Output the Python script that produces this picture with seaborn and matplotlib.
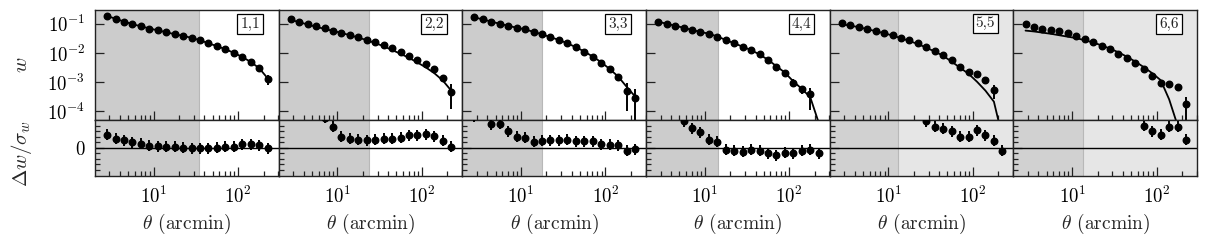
import numpy as np
import seaborn as sns
import matplotlib.pyplot as plt
from matplotlib.ticker import FixedLocator, NullLocator, NullFormatter, LogLocator

nan = np.nan

# angular bins (arcmin)
theta = [2.81, 3.54, 4.46, 5.61, 7.06, 8.89, 11.19, 14.09, 17.74, 22.33,
         28.11, 35.39, 44.55, 56.09, 70.61, 88.89, 111.9, 140.9, 177.4, 223.3]

labels = ["1,1", "2,2", "3,3", "4,4", "5,5", "6,6"]
cuts = [34.5, 23.8, 17.7, 14.2, 13.1, 13.3]

# measured w(theta)
w1 = [0.195, 0.148, 0.120, 0.0977, 0.0832, 0.0692, 0.0603, 0.0513, 0.0437, 0.0389,
      0.0331, 0.0275, 0.0214, 0.0174, 0.0138, 0.0102, 0.00741, 0.00501, 0.00309, 0.00126]
w2 = [0.148, 0.120, 0.100, 0.0851, 0.0708, 0.0589, 0.0501, 0.0427, 0.0347, 0.0288,
      0.0234, 0.0191, 0.0145, 0.0112, 0.00794, 0.00575, 0.00407, 0.00275, 0.00141, 0.000468]
w3 = [0.170, 0.145, 0.120, 0.100, 0.0851, 0.0741, 0.0661, 0.0525, 0.0437, 0.0347,
      0.0282, 0.0214, 0.0158, 0.0112, 0.00741, 0.00468, 0.00275, 0.00151, 0.000501, 0.000275]
w4 = [0.120, 0.100, 0.0871, 0.0741, 0.0617, 0.0525, 0.0457, 0.0363, 0.0282, 0.0214,
      0.0166, 0.0126, 0.00891, 0.00575, 0.00339, 0.00200, 0.000955, 0.000562, 0.000372, nan]
w5 = [0.105, 0.0933, 0.0813, 0.0692, 0.0589, 0.0501, 0.0427, 0.0339, 0.0275, 0.0214,
      0.0158, 0.0120, 0.00832, 0.00575, 0.00339, 0.00229, 0.00191, 0.00117, 0.000525, nan]
w6 = [0.0977, 0.0794, 0.0692, 0.0603, 0.0550, 0.0468, 0.0389, 0.0302, 0.0245, 0.0174,
      0.0138, 0.00955, 0.00692, 0.00437, 0.00275, 0.00162, 0.000955, 0.000871, 0.000692, 0.000174]

# relative errors sigma/w
e1 = [0.03, 0.03, 0.03, 0.03, 0.03, 0.03, 0.03, 0.03, 0.03, 0.04,
      0.04, 0.04, 0.05, 0.05, 0.06, 0.07, 0.08, 0.10, 0.15, 0.40]
e2 = [0.03, 0.03, 0.03, 0.03, 0.03, 0.03, 0.03, 0.04, 0.04, 0.04,
      0.05, 0.05, 0.06, 0.06, 0.07, 0.08, 0.10, 0.12, 0.20, 0.75]
e3 = [0.03, 0.03, 0.03, 0.03, 0.03, 0.03, 0.03, 0.04, 0.04, 0.04,
      0.05, 0.05, 0.06, 0.07, 0.08, 0.10, 0.15, 0.20, 0.80, 1.10]
e4 = [0.03, 0.03, 0.03, 0.03, 0.03, 0.03, 0.04, 0.04, 0.05, 0.05,
      0.06, 0.07, 0.08, 0.10, 0.12, 0.15, 0.30, 0.30, 0.70, nan]
e5 = [0.03, 0.03, 0.03, 0.03, 0.03, 0.03, 0.04, 0.04, 0.05, 0.05,
      0.06, 0.07, 0.08, 0.10, 0.10, 0.10, 0.12, 0.12, 0.50, nan]
e6 = [0.03, 0.03, 0.03, 0.03, 0.03, 0.03, 0.04, 0.04, 0.05, 0.05,
      0.06, 0.07, 0.08, 0.10, 0.10, 0.10, 0.10, 0.10, 0.10, 0.75]

# best-fit model
m1 = [0.190, 0.150, 0.121, 0.098, 0.083, 0.070, 0.060, 0.052, 0.044, 0.039,
      0.033, 0.0275, 0.0215, 0.0172, 0.0135, 0.0101, 0.0073, 0.0049, 0.0030, 0.00135]
m2 = [0.138, 0.115, 0.0955, 0.0794, 0.0676, 0.0575, 0.0490, 0.0407, 0.0339, 0.0275,
      0.0219, 0.0170, 0.0126, 0.00933, 0.00676, 0.00468, 0.00316, 0.00200, 0.00112, 0.000501]
m3 = [0.168, 0.143, 0.120, 0.101, 0.086, 0.074, 0.065, 0.053, 0.044, 0.035,
      0.028, 0.0215, 0.0158, 0.0112, 0.0075, 0.0048, 0.0028, 0.00155, 0.00069, 0.00032]
m4 = [0.120, 0.101, 0.087, 0.074, 0.062, 0.053, 0.046, 0.037, 0.028, 0.0215,
      0.0165, 0.0125, 0.0089, 0.0058, 0.0035, 0.0021, 0.00105, 0.00058, 0.00030, 0.00004]
m5 = [0.0977, 0.0871, 0.0776, 0.0661, 0.0562, 0.0479, 0.0398, 0.0324, 0.0257, 0.0204,
      0.0151, 0.0112, 0.00794, 0.00501, 0.00309, 0.00191, 0.00102, 0.000501, 0.000209, 0.0000126]
m6 = [0.0589, 0.0550, 0.0501, 0.0457, 0.0407, 0.0363, 0.0324, 0.0275, 0.0229, 0.0182,
      0.0141, 0.0105, 0.00741, 0.00501, 0.00324, 0.00200, 0.00115, 0.000251, 0.0000316, nan]

# residuals (w - model)/sigma
r1 = [2.4, 1.7, 1.4, 1.0, 0.8, 0.4, 0.3, 0.2, 0.2, 0.0,
      -0.1, -0.1, -0.1, 0.0, 0.2, 0.2, 0.7, 0.7, 0.5, -0.1]
r2 = [nan, nan, nan, nan, 5.5, 3.9, 2.0, 1.7, 1.5, 1.4,
      1.5, 1.7, 1.7, 1.9, 2.3, 2.3, 2.5, 2.1, 1.3, 0.2]
r3 = [5.8, nan, 4.3, 4.4, 3.0, 2.0, 1.9, 1.1, 1.3, 1.4,
      1.4, 1.5, 1.2, 1.2, 1.2, 0.65, 0.6, 0.5, -0.55, -0.25]
r4 = [nan, nan, nan, 4.9, 3.6, 2.9, 1.5, 1.1, -0.3, -0.55,
      -0.7, -0.3, -0.55, -1.0, -1.3, -0.9, -1.0, -0.55, -0.3, -1.0]
r5 = [nan, nan, nan, nan, nan, nan, nan, nan, nan, nan,
      4.9, 3.9, 3.5, 3.0, 2.0, 2.0, 3.2, 2.3, 1.3, -0.55]
r6 = [nan, nan, nan, nan, nan, nan, nan, nan, nan, nan,
      nan, nan, nan, nan, 4.0, 3.0, 2.4, 3.9, 3.9, 1.5]

data = [w1, w2, w3, w4, w5, w6]
errs = [e1, e2, e3, e4, e5, e6]
models = [m1, m2, m3, m4, m5, m6]
resids = [r1, r2, r3, r4, r5, r6]

sns.set_theme(style="ticks")
plt.rcParams.update({
    "font.family": "serif",
    "font.serif": ["cmr10"],
    "mathtext.fontset": "cm",
    "axes.formatter.use_mathtext": True,
    "axes.edgecolor": "#222222",
    "axes.linewidth": 1.0,
    "axes.unicode_minus": False,
})

fig = plt.figure(figsize=(12.08, 2.4), dpi=100)
gs = fig.add_gridspec(2, 6, left=0.0786, right=0.991, top=0.958, bottom=0.267,
                      hspace=0, wspace=0, height_ratios=[110, 56])

xlim = (2.02, 302)
th = np.array(theta)

for i in range(6):
    at = fig.add_subplot(gs[0, i])
    ab = fig.add_subplot(gs[1, i])
    w = np.array(data[i])
    err = w * np.array(errs[i])

    for ax in (at, ab):
        ax.set_xscale("log")
        ax.set_xlim(*xlim)
        if i >= 4:
            ax.set_facecolor("#e6e6e6")
            shade = "#d1d1d1"
        else:
            ax.set_facecolor("white")
            shade = "#cccccc"
        ax.axvspan(xlim[0], cuts[i], color=shade, lw=0, zorder=0)
        ax.axvline(cuts[i], color="#b8b8b8", lw=0.8, zorder=0.5)
        ax.xaxis.set_major_locator(FixedLocator([10, 100]))
        ax.xaxis.set_minor_locator(LogLocator(base=10, subs=np.arange(2, 10), numticks=20))
        ax.xaxis.set_minor_formatter(NullFormatter())
        ax.tick_params(which="both", direction="in", top=False, right=False,
                       colors="#222222", labelcolor="black", labelsize=13.5, pad=7)
        ax.tick_params(which="major", length=6.5, width=0.9)
        ax.tick_params(which="minor", length=3.5, width=0.9)

    # top: w(theta)
    at.set_yscale("log")
    at.set_ylim(4.9e-5, 0.3)
    at.errorbar(th, w, yerr=err, fmt="o", color="black", ms=4.7, elinewidth=1.4,
                capsize=0, zorder=3)
    sns.lineplot(x=theta, y=models[i], ax=at, color="black", lw=1.3, zorder=2)
    at.yaxis.set_major_locator(FixedLocator([1e-4, 1e-3, 1e-2, 1e-1]))
    at.yaxis.set_minor_locator(NullLocator())
    at.tick_params(labelbottom=False)
    at.text(0.9, 0.94, labels[i], transform=at.transAxes, ha="right", va="top",
            fontsize=11, zorder=5,
            bbox=dict(boxstyle="square,pad=0.2", fc="white", ec="black", lw=0.9))

    # bottom: residuals
    ab.set_ylim(-5.1, 5.1)
    ab.axhline(0, color="black", lw=1.0, zorder=1)
    ab.errorbar(th, resids[i], yerr=1.0, fmt="o", color="black", ms=4.7,
                elinewidth=1.4, capsize=0, zorder=3)
    ab.yaxis.set_major_locator(FixedLocator([0]))
    ab.yaxis.set_minor_locator(FixedLocator([-4, -3, -2, -1, 1, 2, 3, 4]))
    ab.set_yticklabels(["$0$"])
    ab.set_xlabel(r"$\theta$ (arcmin)", fontsize=14, labelpad=4)

    at.set_ylabel("")
    ab.set_ylabel("")
    if i > 0:
        at.tick_params(labelleft=False)
        ab.tick_params(labelleft=False)

fig.text(0.018, 0.729, r"$w$", rotation=90, ha="center", va="center", fontsize=15)
fig.text(0.018, 0.36, r"$\Delta w/\sigma_w$", rotation=90, ha="center", va="center",
         fontsize=15)

fig.savefig("out.png", dpi=100)
